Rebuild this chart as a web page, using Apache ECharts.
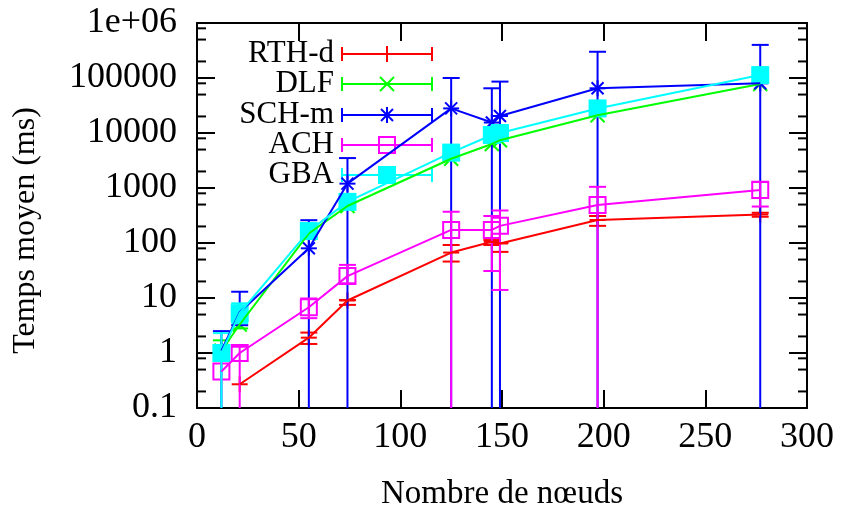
<!DOCTYPE html>
<html><head><meta charset="utf-8">
<script src="https://cdn.jsdelivr.net/npm/echarts@6/dist/echarts.min.js"></script>
<style>html,body{margin:0;padding:0;background:#fff}#c{width:845px;height:516px}</style>
</head><body><div id="c"></div>
<script>
// ---- data ----
const nodes = [12, 21, 55, 74, 125, 145, 149, 197, 277];
const seriesNames = ['RTH-d', 'DLF', 'SCH-m', 'ACH', 'GBA'];
const rthMean = [null, 0.27, 1.9, 9, 67, 105, 98, 262, 330];
const rthLow  = [null, null, 1.46, 7.5, 46, 92, 69, 205, 300];
const rthHigh = [null, null, 2.35, 9.2, 92, 113, 100, 310, 355];
const dlfMean = [1.1, 3.3, 150, 470, 3400, 6300, 7400, 21000, 78000];
const dlfLow  = [0.8, 2.8, null, null, null, null, null, null, null];
const dlfHigh = [1.7, 4.0, null, null, null, null, null, null, null];
const schMean = [1.1, 5.5, 80, 1200, 28000, 15500, 20400, 65000, 80000];
const schLow  = [0.001, 3.2, 0.001, 0.001, 0.001, 0.001, 0.001, 0.001, 0.001];
const schHigh = [2.5, 13, 260, 3500, 100000, 65000, 86000, 300000, 400000];
const achMean = [0.46, 1.0, 6.8, 25, 173, 173, 205, 490, 920];
const achLow  = [null, 0.001, 4.3, 18.5, 0.001, 31, 14, 0.001, 460];
const achHigh = [null, 1.3, 9.8, 40, 370, 310, 390, 1050, 1300];
const gbaMean = [1.0, 5.3, 165, 560, 4400, 9200, 10000, 28000, 113000];
const gbaLow  = [0.001, 3.5, null, null, null, null, null, null, null];
const gbaHigh = [2.3, 8, null, null, null, null, null, null, null];
const xTicks = [0, 50, 100, 150, 200, 250, 300];
const yTickLabels = ['0.1', '1', '10', '100', '1000', '10000', '100000', '1e+06'];
const yMinorTicks = [];
for (let e = -1; e < 6; e++) { [2, 5, 8].forEach(m => yMinorTicks.push(m * Math.pow(10, e))); }
const xAxisTitle = 'Nombre de nœuds';
const yAxisTitle = 'Temps moyen (ms)';

const colors = ['#ff0000', '#00ff00', '#0000ff', '#ff00ff', '#00ffff'];
const markers = ['plus', 'cross', 'star', 'box', 'fbox'];
const means = [rthMean, dlfMean, schMean, achMean, gbaMean];
const lows = [rthLow, dlfLow, schLow, achLow, gbaLow];
const highs = [rthHigh, dlfHigh, schHigh, achHigh, gbaHigh];
const FONT = '"Liberation Serif", "Times New Roman", serif';

function markerShapes(type, cx, cy, color) {
  const st = { stroke: color, lineWidth: 2, fill: null };
  const L = (x1, y1, x2, y2) => ({ type: 'line', shape: { x1, y1, x2, y2 }, style: st });
  const s = 8, d = 7, ds = 6;
  switch (type) {
    case 'plus': return [L(cx - s, cy, cx + s, cy), L(cx, cy - s, cx, cy + s)];
    case 'cross': return [L(cx - d, cy - d, cx + d, cy + d), L(cx - d, cy + d, cx + d, cy - d)];
    case 'star': return [L(cx - s, cy, cx + s, cy), L(cx, cy - s, cx, cy + s),
      L(cx - ds, cy - ds, cx + ds, cy + ds), L(cx - ds, cy + ds, cx + ds, cy - ds)];
    case 'box': return [{ type: 'rect', shape: { x: cx - 8, y: cy - 8, width: 16, height: 16 }, style: st }];
    case 'fbox': return [{ type: 'rect', shape: { x: cx - 9, y: cy - 9, width: 18, height: 18 }, style: { fill: color } }];
  }
  return [];
}

const series = [];
seriesNames.forEach((name, i) => {
  const lineData = [], errData = [];
  nodes.forEach((x, k) => {
    const m = means[i][k];
    if (m == null) return;
    lineData.push([x, m]);
    errData.push([x, m, lows[i][k] == null ? NaN : lows[i][k], highs[i][k] == null ? NaN : highs[i][k]]);
  });
  series.push({
    type: 'line', name, data: lineData, showSymbol: false, symbol: 'none',
    lineStyle: { color: colors[i], width: 2 }, itemStyle: { color: colors[i] },
    z: 2, animation: false, silent: true
  });
  series.push({
    type: 'custom', name: name + '-err', data: errData, clip: true, z: 2, animation: false, silent: true,
    renderItem(params, api) {
      const x = api.value(0), y = api.value(1), lo = api.value(2), hi = api.value(3);
      const c = api.coord([x, y]);
      const ch = [];
      const st = { stroke: colors[i], lineWidth: 2 };
      if (isFinite(lo) && isFinite(hi)) {
        const pl = api.coord([x, lo]), ph = api.coord([x, hi]);
        ch.push({ type: 'line', shape: { x1: c[0], y1: pl[1], x2: c[0], y2: ph[1] }, style: st });
        ch.push({ type: 'line', shape: { x1: c[0] - 8.5, y1: pl[1], x2: c[0] + 8.5, y2: pl[1] }, style: st });
        ch.push({ type: 'line', shape: { x1: c[0] - 8.5, y1: ph[1], x2: c[0] + 8.5, y2: ph[1] }, style: st });
      }
      markerShapes(markers[i], c[0], c[1], colors[i]).forEach(e => ch.push(e));
      return { type: 'group', children: ch };
    }
  });
});
// minor ticks on log axis (left and right borders)
series.push({
  type: 'custom', name: 'minor', data: yMinorTicks.map(v => [0, v]), clip: false, z: 5, silent: true, animation: false,
  renderItem(params, api) {
    const v = api.value(1);
    const l = api.coord([0, v]), r = api.coord([300, v]);
    const st = { stroke: '#000', lineWidth: 2 };
    return { type: 'group', children: [
      { type: 'line', shape: { x1: l[0], y1: l[1], x2: l[0] + 9, y2: l[1] }, style: st },
      { type: 'line', shape: { x1: r[0], y1: r[1], x2: r[0] - 9, y2: r[1] }, style: st }
    ] };
  }
});

// legend drawn as graphic
const legendRows = [54, 84, 115, 145, 175];
const graphic = [];
seriesNames.forEach((name, i) => {
  const y = legendRows[i];
  graphic.push({ type: 'text', x: 334, y: y, style: { text: name, font: '31px ' + FONT, fill: '#000', textAlign: 'right', textVerticalAlign: 'middle' } });
  const st = { stroke: colors[i], lineWidth: 2 };
  graphic.push({ type: 'line', shape: { x1: 342, y1: y, x2: 432, y2: y }, style: st });
  graphic.push({ type: 'line', shape: { x1: 342, y1: y - 7, x2: 342, y2: y + 7 }, style: st });
  graphic.push({ type: 'line', shape: { x1: 432, y1: y - 7, x2: 432, y2: y + 7 }, style: st });
  markerShapes(markers[i], 387, y, colors[i]).forEach(e => graphic.push(e));
});

const axisLineStyle = { color: '#000', width: 2 };
const option = {
  animation: false,
  backgroundColor: '#fff',
  grid: { left: 197, right: 38, top: 23, bottom: 108, containLabel: false },
  xAxis: [{
    type: 'value', min: 0, max: 300, interval: 50, position: 'bottom',
    name: xAxisTitle, nameLocation: 'middle', nameGap: 70,
    nameTextStyle: { fontFamily: FONT, fontSize: 33, color: '#000' },
    axisLine: { show: true, onZero: false, lineStyle: axisLineStyle },
    axisTick: { show: true, inside: true, length: 18, lineStyle: { color: '#000', width: 2 } },
    axisLabel: { fontFamily: FONT, fontSize: 36, color: '#000', margin: 12,
      formatter: v => xTicks.indexOf(v) >= 0 ? String(v) : '' },
    splitLine: { show: false }
  }, {
    type: 'value', min: 0, max: 300, interval: 50, position: 'top',
    axisLine: { show: true, onZero: false, lineStyle: axisLineStyle },
    axisTick: { show: true, inside: true, length: 18, lineStyle: { color: '#000', width: 2 } },
    axisLabel: { show: false }, splitLine: { show: false }
  }],
  yAxis: [{
    type: 'log', logBase: 10, min: 0.1, max: 1e6, splitNumber: 7, position: 'left',
    name: yAxisTitle, nameLocation: 'middle', nameGap: 155, nameRotate: 90,
    nameTextStyle: { fontFamily: FONT, fontSize: 32, color: '#000', padding: [0, 30, 0, 0] },
    axisLine: { show: true, onZero: false, lineStyle: axisLineStyle },
    axisTick: { show: true, inside: true, length: 18, lineStyle: { color: '#000', width: 2 } },
    axisLabel: { fontFamily: FONT, fontSize: 36, color: '#000', margin: 20,
      formatter: v => yTickLabels[Math.round(Math.log10(v)) + 1] },
    splitLine: { show: false }
  }, {
    type: 'log', logBase: 10, min: 0.1, max: 1e6, splitNumber: 7, position: 'right',
    axisLine: { show: true, onZero: false, lineStyle: axisLineStyle },
    axisTick: { show: true, inside: true, length: 18, lineStyle: { color: '#000', width: 2 } },
    axisLabel: { show: false }, splitLine: { show: false }
  }],
  series,
  graphic
};
const chart = echarts.init(document.getElementById('c'), null, { renderer: 'canvas' });
chart.setOption(option);
</script></body></html>
